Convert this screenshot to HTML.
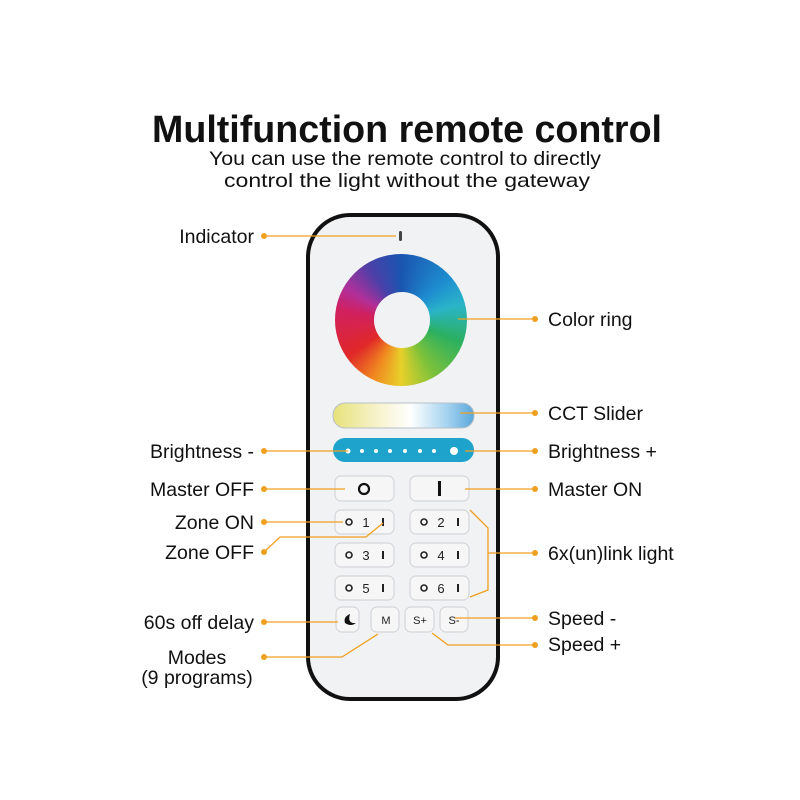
<!DOCTYPE html>
<html><head><meta charset="utf-8"><style>
body{margin:0;background:#fff;}
#w{position:relative;width:800px;height:800px;overflow:hidden;font-family:"Liberation Sans",sans-serif;}
#ring{position:absolute;left:335px;top:254px;width:132px;height:132px;border-radius:50%;
background:conic-gradient(from 0deg,#1a55b0,#1e8fd0 50deg,#2ab4c8 75deg,#2bb060 110deg,#7ec23a 150deg,#e8d02a 180deg,#f08a20 205deg,#e02828 235deg,#d02060 280deg,#b0309a 300deg,#4a40a8 330deg,#1a55b0);}
#hole{position:absolute;left:374px;top:292px;width:56px;height:56px;border-radius:50%;background:#f1f2f4;}
svg{position:absolute;left:0;top:0;}
</style></head><body><div id="w">
<svg width="800" height="800" xmlns="http://www.w3.org/2000/svg" font-family="Liberation Sans, sans-serif">
<defs>
<linearGradient id="cct" x1="0" x2="1"><stop offset="0" stop-color="#e6e27a"/><stop offset="0.3" stop-color="#f6f2c8"/><stop offset="0.55" stop-color="#ffffff"/><stop offset="0.8" stop-color="#a8d4f0"/><stop offset="1" stop-color="#5aa8dc"/></linearGradient>
</defs>
<text x="407" y="142" font-size="38" font-weight="bold" text-anchor="middle" fill="#111" textLength="510" lengthAdjust="spacingAndGlyphs">Multifunction remote control</text>
<text x="405" y="165" font-size="19.5" text-anchor="middle" fill="#111" textLength="392" lengthAdjust="spacingAndGlyphs">You can use the remote control to directly</text>
<text x="407" y="187" font-size="19.5" text-anchor="middle" fill="#111" textLength="366" lengthAdjust="spacingAndGlyphs">control the light without the gateway</text>
<rect x="308" y="215" width="190" height="484" rx="42" fill="#f1f2f4" stroke="#111" stroke-width="4"/>
<rect x="399" y="231" width="3" height="10" rx="1.5" fill="#444"/>
<rect x="333" y="403" width="141" height="25" rx="12" fill="url(#cct)" stroke="#b8c0c8"/>
<rect x="333" y="438" width="141" height="24" rx="12" fill="#1ea4cc"/>
<g fill="#fff"><circle cx="348" cy="451" r="2.5"/><circle cx="362" cy="451" r="2"/><circle cx="376" cy="451" r="2"/><circle cx="390" cy="451" r="2"/><circle cx="405" cy="451" r="2"/><circle cx="420" cy="451" r="2"/><circle cx="434" cy="451" r="2"/><circle cx="454" cy="451" r="4"/></g>
<g fill="#f6f6f6" stroke="#d4d6da" stroke-width="1.2">
<rect x="335" y="476" width="59" height="25" rx="6"/><rect x="410" y="476" width="59" height="25" rx="6"/>
<rect x="335" y="510" width="59" height="24" rx="6"/><rect x="410" y="510" width="59" height="24" rx="6"/>
<rect x="335" y="543" width="59" height="24" rx="6"/><rect x="410" y="543" width="59" height="24" rx="6"/>
<rect x="335" y="576" width="59" height="24" rx="6"/><rect x="410" y="576" width="59" height="24" rx="6"/>
<rect x="336" y="607" width="23" height="25" rx="6"/><rect x="371" y="607" width="28" height="25" rx="6"/>
<rect x="405" y="607" width="29" height="25" rx="6"/><rect x="440" y="607" width="28" height="25" rx="6"/>
</g>
<circle cx="364" cy="489" r="5" fill="none" stroke="#111" stroke-width="2.2"/>
<rect x="438" y="481" width="3" height="15" fill="#111"/>
<g font-size="13" fill="#222" text-anchor="middle">
<text x="366" y="527">1</text><text x="441" y="527">2</text>
<text x="366" y="560">3</text><text x="441" y="560">4</text>
<text x="366" y="593">5</text><text x="441" y="593">6</text>
<text x="386" y="624" font-size="11">M</text><text x="420" y="624" font-size="11">S+</text><text x="454" y="624" font-size="11">S-</text>
</g>
<g fill="none" stroke="#222" stroke-width="1.6">
<circle cx="349" cy="522" r="3"/><circle cx="424" cy="522" r="3"/>
<circle cx="349" cy="555" r="3"/><circle cx="424" cy="555" r="3"/>
<circle cx="349" cy="588" r="3"/><circle cx="424" cy="588" r="3"/>
</g>
<g fill="#222"><rect x="382" y="518" width="2" height="8"/><rect x="457" y="518" width="2" height="8"/>
<rect x="382" y="551" width="2" height="8"/><rect x="457" y="551" width="2" height="8"/>
<rect x="382" y="584" width="2" height="8"/><rect x="457" y="584" width="2" height="8"/></g>
<path d="M350 614 Q347 624 356 623 Q351 627 345 623 Q343 617 350 614z" fill="#111"/>
<g fill="none" stroke="#f0a020" stroke-width="1.3">
<path d="M264 236H396"/><path d="M460 413H535"/>
<path d="M264 451H348"/><path d="M465 451H535"/>
<path d="M264 489H345"/><path d="M465 489H535"/>
<path d="M264 522H343"/><path d="M264 552L280 537H366L383 523"/>
<path d="M470 510L488 528V590L470 597"/><path d="M488 553H535"/>
<path d="M264 622H338"/><path d="M455 618H535"/>
<path d="M264 657H342L378 634"/><path d="M432 633L448 645H535"/>
</g>
<g fill="#f0a020">
<circle cx="264" cy="236" r="3"/><circle cx="535" cy="319" r="3"/><circle cx="535" cy="413" r="3"/>
<circle cx="264" cy="451" r="3"/><circle cx="535" cy="451" r="3"/><circle cx="264" cy="489" r="3"/>
<circle cx="535" cy="489" r="3"/><circle cx="264" cy="522" r="3"/><circle cx="264" cy="552" r="3"/>
<circle cx="535" cy="553" r="3"/><circle cx="264" cy="622" r="3"/><circle cx="535" cy="618" r="3"/>
<circle cx="264" cy="657" r="3"/><circle cx="535" cy="645" r="3"/>
</g>
<g font-size="19.5" fill="#111" text-anchor="end">
<text x="254" y="243">Indicator</text><text x="254" y="458">Brightness -</text>
<text x="254" y="496">Master OFF</text><text x="254" y="529">Zone ON</text>
<text x="254" y="559">Zone OFF</text><text x="254" y="629">60s off delay</text>
</g>
<g font-size="19.5" fill="#111" text-anchor="middle">
<text x="197" y="664">Modes</text><text x="197" y="684">(9 programs)</text>
</g>
<g font-size="19.5" fill="#111">
<text x="548" y="326">Color ring</text><text x="548" y="420">CCT Slider</text>
<text x="548" y="458">Brightness +</text><text x="548" y="496">Master ON</text>
<text x="548" y="560">6x(un)link light</text><text x="548" y="625">Speed -</text>
<text x="548" y="651">Speed +</text>
</g>
</svg>
<div id="ring"></div><div id="hole"></div>
<svg width="800" height="800"><path d="M458 319H535" stroke="#f0a020" stroke-width="1.3"/></svg>
</div></body></html>
